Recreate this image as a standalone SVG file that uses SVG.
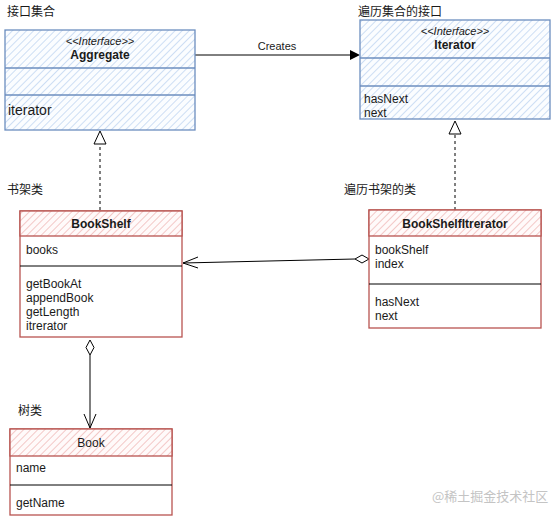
<svg xmlns="http://www.w3.org/2000/svg" width="551" height="519" viewBox="0 0 551 519">
<style>
text{font-family:"Liberation Sans",Arial,"Noto Sans CJK SC",sans-serif;font-size:12px;fill:#1a1a1a}
.cjk{font-family:"Noto Sans CJK SC","Liberation Sans",sans-serif;font-size:12px}
.b{font-weight:bold}
.c{text-anchor:middle}
.i{font-style:italic;font-size:11px}
.blue{stroke:#6c8ebf;stroke-width:1.3}
.red{stroke:#b85450;stroke-width:1.3}
.ln{stroke:#000;stroke-width:1;fill:none}
</style>
<defs>
<pattern id="hb" patternUnits="userSpaceOnUse" width="5" height="5" patternTransform="rotate(45)">
<rect width="5" height="5" fill="#fbfdff"/>
<line x1="0" y1="0" x2="0" y2="5" stroke="#c2d6f2" stroke-width="1.6"/>
</pattern>
<pattern id="hr" patternUnits="userSpaceOnUse" width="5" height="5" patternTransform="rotate(45)">
<rect width="5" height="5" fill="#fffafa"/>
<line x1="0" y1="0" x2="0" y2="5" stroke="#f1bcba" stroke-width="1.6"/>
</pattern>
</defs>
<rect width="551" height="519" fill="#fff"/>

<g id="labels">
<text class="cjk" x="7" y="16">接口集合</text>
<text class="cjk" x="358" y="16">遍历集合的接口</text>
<text class="cjk" x="7" y="194">书架类</text>
<text class="cjk" x="344" y="194">遍历书架的类</text>
<text class="cjk" x="18" y="415">树类</text>
<text class="cjk" x="432" y="501" style="fill:#c4c4c4;font-size:13px">@稀土掘金技术社区</text>
</g>

<g id="connectors">
<line class="ln" x1="195" y1="55" x2="352" y2="55"/>
<path d="M350,50 L360,55 L350,60 Z" fill="#000"/>
<text class="c" x="277" y="50" style="font-size:11px">Creates</text>
<line class="ln" x1="100" y1="210" x2="100" y2="144" stroke-dasharray="3,3"/>
<path d="M100,131 L94,144 L106,144 Z" fill="#fff" stroke="#000"/>
<line class="ln" x1="455" y1="210" x2="455" y2="134" stroke-dasharray="3,3"/>
<path d="M455,121 L449,134 L461,134 Z" fill="#fff" stroke="#000"/>
<line class="ln" x1="183" y1="263" x2="355" y2="259"/>
<path d="M369,259 L362,255 L355,259 L362,263 Z" fill="#fff" stroke="#000"/>
<path class="ln" d="M198,257 L183,263 L198,268"/>
<line class="ln" x1="90" y1="355" x2="90" y2="428"/>
<path d="M90,340 L86,347.5 L90,355 L94,347.5 Z" fill="#fff" stroke="#000"/>
<path class="ln" d="M84,414 L90,428 L96,414"/>
</g>

<g id="Aggregate">
<rect class="blue" x="5" y="30" width="190" height="100" fill="url(#hb)"/>
<line class="blue" x1="5" y1="68" x2="195" y2="68"/>
<line class="blue" x1="5" y1="95" x2="195" y2="95"/>
<text class="c i" x="100" y="45">&lt;&lt;Interface&gt;&gt;</text>
<text class="c b" x="100" y="59">Aggregate</text>
<text x="8" y="115" style="font-size:14px">iterator</text>
</g>

<g id="Iterator">
<rect class="blue" x="360" y="20" width="190" height="99" fill="url(#hb)"/>
<line class="blue" x1="360" y1="58" x2="550" y2="58"/>
<line class="blue" x1="360" y1="86" x2="550" y2="86"/>
<text class="c i" x="455" y="35">&lt;&lt;Interface&gt;&gt;</text>
<text class="c b" x="455" y="49">Iterator</text>
<text x="364" y="103">hasNext</text>
<text x="364" y="117">next</text>
</g>

<g id="BookShelf">
<rect class="red" x="20" y="211" width="162" height="126" fill="#fff"/>
<rect class="red" x="20" y="211" width="162" height="25" fill="url(#hr)"/>
<line x1="20" y1="266" x2="182" y2="266" stroke="#000"/>
<text class="c b" x="101" y="228">BookShelf</text>
<text x="26" y="254">books</text>
<text x="26" y="288">getBookAt</text>
<text x="26" y="302">appendBook</text>
<text x="26" y="316">getLength</text>
<text x="26" y="330">itrerator</text>
</g>

<g id="BookShelfItrerator">
<rect class="red" x="369" y="210" width="172" height="118" fill="#fff"/>
<rect class="red" x="369" y="210" width="172" height="26" fill="url(#hr)"/>
<line x1="369" y1="284" x2="541" y2="284" stroke="#000"/>
<text class="c b" x="455" y="228">BookShelfItrerator</text>
<text x="375" y="254">bookShelf</text>
<text x="375" y="268">index</text>
<text x="375" y="306">hasNext</text>
<text x="375" y="320">next</text>
</g>

<g id="Book">
<rect class="red" x="10" y="429" width="162" height="86" fill="#fff"/>
<rect class="red" x="10" y="429" width="162" height="27" fill="url(#hr)"/>
<line x1="10" y1="485" x2="172" y2="485" stroke="#000"/>
<text class="c" x="91" y="447">Book</text>
<text x="16" y="472">name</text>
<text x="16" y="507">getName</text>
</g>
</svg>
